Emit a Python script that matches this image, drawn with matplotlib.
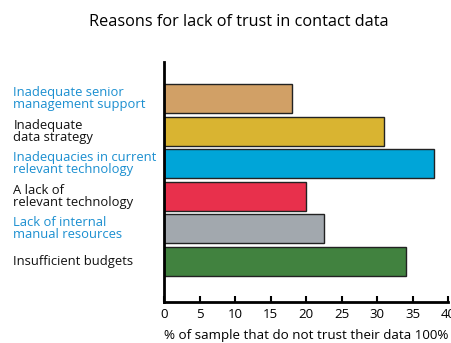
import matplotlib.pyplot as plt

reasons = ["Inadequate senior\nmanagement support",
           "Inadequate\ndata strategy",
           "Inadequacies in current\nrelevant technology",
           "A lack of\nrelevant technology",
           "Lack of internal\nmanual resources",
           "Insufficient budgets"]
values = [18, 31, 38, 20, 22.5, 34]
bar_colors = ["#d1a066", "#d9b431", "#00a5d8", "#e8304c", "#a2a8ae", "#41823f"]
label_colors = ["#1b8fd0", "#111111", "#1b8fd0", "#111111", "#1b8fd0", "#111111"]
xticks = [0, 5, 10, 15, 20, 25, 30, 35, 40]

plt.rcParams['font.family'] = ['Open Sans', 'DejaVu Sans']

fig = plt.figure(figsize=(4.52, 3.43), dpi=100)
ax = fig.add_axes([0.3628, 0.1195, 0.6288, 0.6997])

ypos = list(range(len(values) - 1, -1, -1))
ax.barh(ypos, values, height=0.9, color=bar_colors, edgecolor="#222222", linewidth=1)

ax.set_xlim(0, 40)
ax.set_ylim(-1.25, 6.13)
ax.set_xticks(xticks)
ax.set_xticklabels([str(t) for t in xticks], fontsize=9.5)
ax.tick_params(axis='x', direction='in', length=4, width=1.5, pad=4)
ax.set_yticks([])

for s in ['top', 'right']:
    ax.spines[s].set_visible(False)
for s in ['left', 'bottom']:
    ax.spines[s].set_linewidth(2)

for y, txt, c in zip(ypos, reasons, label_colors):
    ax.text(-0.53, y, txt, transform=ax.get_yaxis_transform(), ha='left', va='center',
            fontsize=9.4, color=c, linespacing=0.92)

ax.set_xlabel("% of sample that do not trust their data 100%", fontsize=9.6, labelpad=6)
fig.text(0.529, 0.936, "Reasons for lack of trust in contact data", ha='center', va='center',
         fontsize=11.7)

fig.savefig("out.png", dpi=100)
